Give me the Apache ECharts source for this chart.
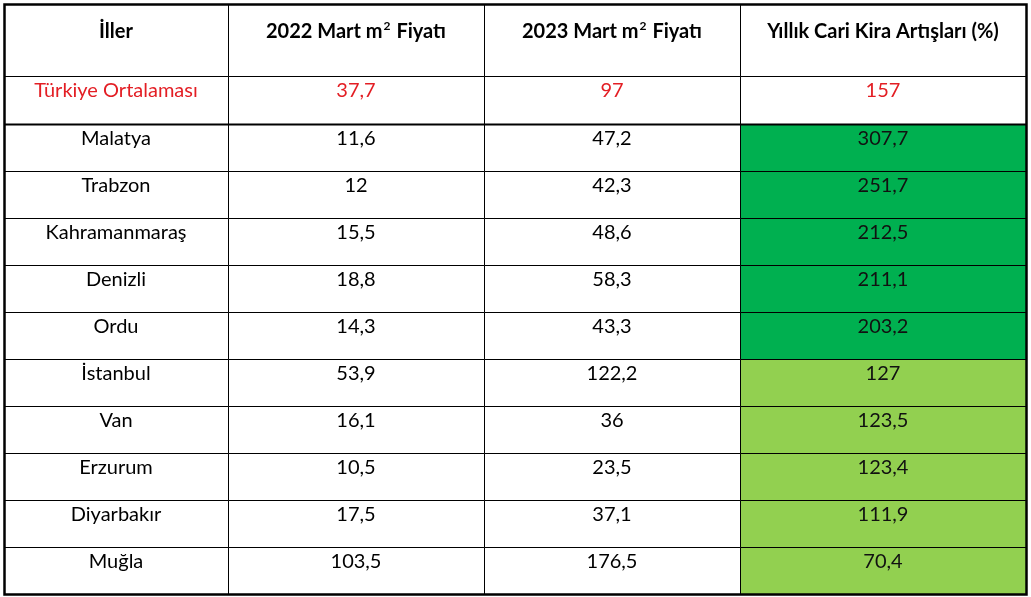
<!DOCTYPE html>
<html>
<head>
<meta charset="utf-8">
<title>İller kira artışları</title>
<script src="https://cdn.jsdelivr.net/npm/echarts@6/dist/echarts.min.js"></script>
<style>
    html, body { margin: 0; padding: 0; background: #fff; }
    #main { width: 1031px; height: 597px; }
</style>
</head>
<body>
<div id="main"></div>
<script>
// tablo verileri
var headers = ['İller', '2022 Mart m{sup|2} Fiyatı', '2023 Mart m{sup|2} Fiyatı', 'Yıllık Cari Kira Artışları (%)'];
var cities = ['Türkiye Ortalaması', 'Malatya', 'Trabzon', 'Kahramanmaraş', 'Denizli', 'Ordu', 'İstanbul', 'Van', 'Erzurum', 'Diyarbakır', 'Muğla'];
var price2022 = [37.7, 11.6, 12, 15.5, 18.8, 14.3, 53.9, 16.1, 10.5, 17.5, 103.5];
var price2023 = [97, 47.2, 42.3, 48.6, 58.3, 43.3, 122.2, 36, 23.5, 37.1, 176.5];
var rentIncrease = [157, 307.7, 251.7, 212.5, 211.1, 203.2, 127, 123.5, 123.4, 111.9, 70.4];

// yerleşim (piksel birimli eksen)
var colWidths = [224, 256, 256, 286];
var rowHeights = [72, 48, 47, 47, 47, 47, 47, 47, 47, 47, 47, 47];
var fontFamily = 'Lato, "Open Sans", sans-serif';

function edges(arr) {
    var out = [0];
    for (var i = 0; i < arr.length; i++) {
        out.push(out[i] + arr[i]);
    }
    return out;
}
var colEdges = edges(colWidths);
var rowEdges = edges(rowHeights);
var totalW = colEdges[colEdges.length - 1];
var totalH = rowEdges[rowEdges.length - 1];

function fmt(v) {
    return String(v).replace('.', ',');
}

// hücreler: [sütun, satır, metin, dolgu, renk, kalın]
var cells = [];
for (var c = 0; c < headers.length; c++) {
    cells.push([c, 0, headers[c], '#ffffff', '#000000', 1]);
}
for (var r = 0; r < cities.length; r++) {
    var isAvg = r == 0;
    var txtColor = isAvg ? '#E31E24' : '#000000';
    var inc = rentIncrease[r];
    var fill = isAvg ? '#ffffff' : (inc > 200 ? '#00B050' : '#92D050');
    cells.push([0, r + 1, cities[r], '#ffffff', txtColor, 0]);
    cells.push([1, r + 1, fmt(price2022[r]), '#ffffff', txtColor, 0]);
    cells.push([2, r + 1, fmt(price2023[r]), '#ffffff', txtColor, 0]);
    cells.push([3, r + 1, fmt(inc), fill, isAvg ? txtColor : '#111111', 0]);
}

var myChart = echarts.init(document.getElementById('main'));
var option = {
    backgroundColor: '#ffffff',
    animation: false,
    grid: {
        left: 4,
        top: 4,
        width: totalW,
        height: totalH
    },
    xAxis: {
        type: 'value',
        min: 0,
        max: totalW,
        show: false
    },
    yAxis: {
        type: 'value',
        min: 0,
        max: totalH,
        inverse: true,
        show: false
    },
    series: [
        {
            type: 'custom',
            data: cells,
            renderItem: function (params, api) {
                var c = api.value(0), r = api.value(1);
                var d = cells[params.dataIndex];
                var p0 = api.coord([colEdges[c], rowEdges[r]]);
                var p1 = api.coord([colEdges[c + 1], rowEdges[r + 1]]);
                var textY = r == 0 ? p0[1] + 28 : p0[1] + 15;
                return {
                    type: 'group',
                    children: [
                        {
                            type: 'rect',
                            shape: { x: Math.round(p0[0]) + 0.5, y: Math.round(p0[1]) + 0.5, width: Math.round(p1[0] - p0[0]), height: Math.round(p1[1] - p0[1]) },
                            style: { fill: d[3], stroke: '#000000', lineWidth: 1 }
                        },
                        {
                            type: 'text',
                            x: (p0[0] + p1[0]) / 2,
                            y: textY,
                            style: {
                                text: d[2],
                                fill: d[4],
                                fontFamily: fontFamily,
                                fontSize: 20,
                                fontWeight: d[5] ? 'bold' : 'normal',
                                align: 'center',
                                verticalAlign: 'middle',
                                rich: {
                                    sup: {
                                        fontSize: 12,
                                        fontWeight: 'bold',
                                        fontFamily: fontFamily,
                                        fill: d[4],
                                        verticalAlign: 'top',
                                        padding: [0, 1, 12, 1]
                                    }
                                }
                            }
                        }
                    ]
                };
            }
        },
        {
            // dış çerçeve ve ortalama satırı altındaki kalın çizgi
            type: 'custom',
            data: [[0, 0]],
            z: 5,
            renderItem: function (params, api) {
                var tl = api.coord([0, 0]);
                var br = api.coord([totalW, totalH]);
                var ly = api.coord([0, rowEdges[2]])[1];
                return {
                    type: 'group',
                    children: [
                        {
                            type: 'rect',
                            shape: { x: tl[0] + 0.5, y: tl[1] + 0.5, width: br[0] - tl[0], height: br[1] - tl[1] },
                            style: { fill: null, stroke: '#000000', lineWidth: 2.5 }
                        },
                        {
                            type: 'line',
                            shape: { x1: tl[0], y1: ly + 0.5, x2: br[0], y2: ly + 0.5 },
                            style: { stroke: '#000000', lineWidth: 2 }
                        }
                    ]
                };
            }
        }
    ]
};
myChart.setOption(option);
</script>
</body>
</html>
